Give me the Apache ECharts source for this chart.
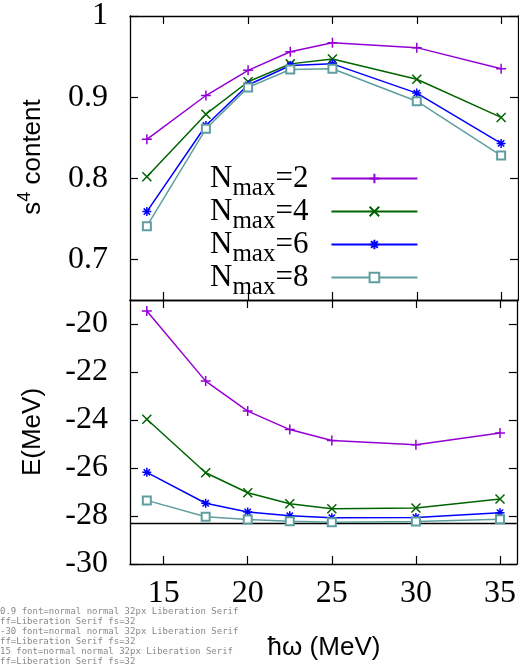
<!DOCTYPE html>
<html>
<head>
<meta charset="utf-8">
<script src="https://cdn.jsdelivr.net/npm/echarts@6/dist/echarts.min.js"></script>
<style>
  html, body { margin: 0; padding: 0; background: #fff; }
  #chart { width: 519px; height: 666px; }
  #info { position: absolute; left: 0; top: 606px; width: 250px; font: 9px monospace; white-space: pre-wrap; color: #888; }
</style>
</head>
<body>
<div id="chart"></div>
<div id="info"></div>
<script>
// Oscillator frequency (MeV)
const hw = [14, 17.5, 20, 22.5, 25, 30, 35];

// s^4 content for each model-space truncation
const s4Nmax2 = [0.848, 0.902, 0.933, 0.956, 0.967, 0.961, 0.935];
const s4Nmax4 = [0.802, 0.879, 0.919, 0.941, 0.947, 0.922, 0.875];
const s4Nmax6 = [0.759, 0.865, 0.915, 0.939, 0.941, 0.905, 0.843];
const s4Nmax8 = [0.741, 0.861, 0.912, 0.934, 0.935, 0.895, 0.828];

// Ground-state energy (MeV)
const eNmax2 = [-19.46, -22.38, -23.63, -24.40, -24.85, -25.03, -24.54];
const eNmax4 = [-23.97, -26.20, -27.03, -27.49, -27.70, -27.67, -27.29];
const eNmax6 = [-26.18, -27.47, -27.83, -27.99, -28.07, -28.06, -27.86];
const eNmax8 = [-27.35, -28.03, -28.15, -28.22, -28.26, -28.23, -28.14];

// Reference energy drawn as a horizontal line
const eReference = -28.3;

const nmaxValues = [2, 4, 6, 8];
const seriesNames = ['Nmax=2', 'Nmax=4', 'Nmax=6', 'Nmax=8'];

// Tick values
const xTicks = [15, 20, 25, 30, 35];
const s4Ticks = [0.7, 0.8, 0.9, 1];
const eTicks = [-30, -28, -26, -24, -22, -20];

const colors = ['#9400d3', '#006400', '#0000ff', '#5f9ea0'];
const symbols = [
  'path://M5,0L5,10M0,5L10,5',
  'path://M0,0L10,10M10,0L0,10',
  'path://M5,0L5,10M0,5L10,5M1.5,1.5L8.5,8.5M8.5,1.5L1.5,8.5',
  'emptyRect'
];
const symbolSizes = [10, 9, 9, 8];

const serif = 'Liberation Serif';
const sans = 'Liberation Sans';

const chart = echarts.init(document.getElementById('chart'));

const frameLine = { show: true, onZero: false, lineStyle: { color: '#000', width: 1.3 } };

function tickLabel(ticks, margin) {
  return { show: true, customValues: ticks, margin, fontFamily: serif, fontSize: 32, color: '#000' };
}

function xAxis(gridIndex, position, withLabels) {
  return {
    type: 'value', gridIndex, position, min: 13, max: 36,
    axisLine: frameLine,
    axisTick: { show: true, inside: true, length: 8, customValues: xTicks, lineStyle: { color: '#000', width: 1.2 } },
    axisLabel: withLabels ? tickLabel(xTicks, 14) : { show: false },
    splitLine: { show: false }
  };
}

function yAxis(gridIndex, position, min, max, ticks, withLabels) {
  return {
    type: 'value', gridIndex, position, min, max,
    axisLine: frameLine,
    axisTick: { show: true, inside: true, length: 8, customValues: ticks, lineStyle: { color: '#000', width: 1.2 } },
    axisLabel: withLabels ? tickLabel(ticks, 22) : { show: false },
    splitLine: { show: false }
  };
}

const xAxes = [
  xAxis(0, 'bottom', false),
  xAxis(0, 'top', false),
  xAxis(1, 'bottom', true),
  xAxis(1, 'top', false)
];

const yAxes = [
  yAxis(0, 'left', 0.65, 1, s4Ticks, true),
  yAxis(0, 'right', 0.65, 1, s4Ticks, false),
  yAxis(1, 'left', -30, -19, eTicks, true),
  yAxis(1, 'right', -30, -19, eTicks, false)
];

const s4Data = [s4Nmax2, s4Nmax4, s4Nmax6, s4Nmax8];
const eData = [eNmax2, eNmax4, eNmax6, eNmax8];

function lineSeries(i, xIdx, yIdx, values) {
  return {
    type: 'line', name: seriesNames[i],
    xAxisIndex: xIdx, yAxisIndex: yIdx,
    data: hw.map((x, k) => [x, values[k]]),
    color: colors[i],
    symbol: symbols[i], symbolSize: symbolSizes[i], showAllSymbol: true,
    lineStyle: { color: colors[i], width: 1.5 },
    itemStyle: { color: colors[i], borderColor: colors[i], borderWidth: 1.5 },
    emphasis: { disabled: true },
    z: 2 + i
  };
}

const series = [];
for (let i = 0; i < 4; i++) series.push(lineSeries(i, 0, 0, s4Data[i]));
for (let i = 0; i < 4; i++) series.push(lineSeries(i, 2, 2, eData[i]));
series[7].markLine = {
  silent: true, symbol: ['none', 'none'],
  label: { show: false },
  lineStyle: { color: '#000', type: 'solid', width: 1.3 },
  data: [{ yAxis: eReference }]
};

// Axis titles (sans-serif)
const titleFont = '26px ' + sans;
const titles = [
  {
    type: 'text', x: 33, y: 157, rotation: Math.PI / 2,
    style: {
      text: '{a|s}{sup|4}{a| content}', align: 'center', verticalAlign: 'middle',
      font: titleFont, fill: '#000',
      rich: {
        a: { fontFamily: sans, fontSize: 26, fill: '#000' },
        sup: { fontFamily: sans, fontSize: 18, fill: '#000', padding: [0, 0, 16, 0] }
      }
    }
  },
  {
    type: 'text', x: 33, y: 432, rotation: Math.PI / 2,
    style: { text: 'E(MeV)', align: 'center', verticalAlign: 'middle', font: titleFont, fill: '#000' }
  },
  {
    type: 'text', x: 324, y: 648,
    style: { text: 'ħω (MeV)', align: 'center', verticalAlign: 'middle', font: titleFont, fill: '#000' }
  }
];

chart.setOption({
  backgroundColor: '#fff',
  animationDuration: 1,
  animationDurationUpdate: 1,
  grid: [
    { left: 130, top: 14, right: 1, height: 286 },
    { left: 130, top: 300, right: 1, height: 264 }
  ],
  xAxis: xAxes,
  yAxis: yAxes,
  graphic: titles,
  legend: {
    data: seriesNames,
    orient: 'vertical',
    align: 'right',
    left: 205,
    top: 158,
    itemWidth: 86,
    itemHeight: 12,
    itemGap: -5,
    selectedMode: false,
    formatter: function (name) {
      const n = nmaxValues[seriesNames.indexOf(name)];
      return '{n|N}{s|max}{n|=' + n + '}';
    },
    textStyle: {
      padding: [0, 18, 0, 0],
      rich: {
        n: { fontFamily: serif, fontSize: 31, color: '#000' },
        s: { fontFamily: serif, fontSize: 25, color: '#000', padding: [20, 0, 0, 0] }
      }
    }
  },
  series
});

// Font diagnostics for the tick labels
const lines = [];
chart.getZr().storage.getDisplayList(true).forEach(function (el) {
  const st = el.style || {};
  if (st.text === '0.9' || st.text === '15' || st.text === '-30') {
    lines.push(st.text + ' font=' + st.font + ' ff=' + st.fontFamily + ' fs=' + st.fontSize);
  }
});
document.getElementById('info').textContent = lines.join('\n') || 'none';
</script>
</body>
</html>
